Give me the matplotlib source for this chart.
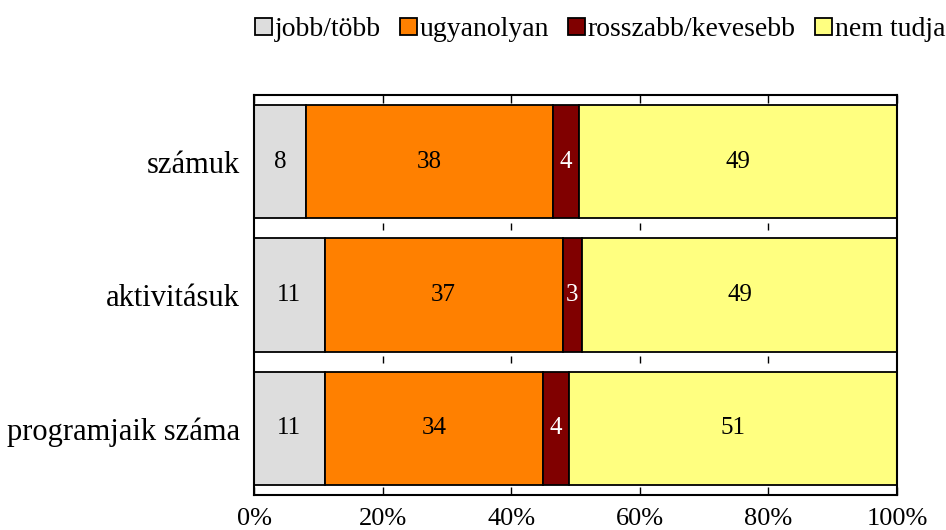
import numpy as np
import matplotlib
matplotlib.use("Agg")
import matplotlib.pyplot as plt

plt.rcParams['font.family'] = ['Liberation Serif', 'DejaVu Serif']

categories = ["számuk", "aktivitásuk", "programjaik száma"]
series = ["jobb/több", "ugyanolyan", "rosszabb/kevesebb", "nem tudja"]
values = np.array([
    [8, 38, 4, 49],
    [11, 37, 3, 49],
    [11, 34, 4, 51],
], dtype=float)
colors = ["#DDDDDD", "#FF8000", "#800000", "#FFFF80"]
text_colors = ["black", "black", "white", "black"]
xticks = [0, 20, 40, 60, 80, 100]

fig = plt.figure(figsize=(9.46, 5.30), dpi=100)
ax = fig.add_axes([0.2685, 0.066, 0.6797, 0.755])

# percent stacked: each row scaled to 100
shares = values / values.sum(axis=1, keepdims=True) * 100
y = np.arange(len(categories))
left = np.zeros(len(categories))
for j, name in enumerate(series):
    bars = ax.barh(y, shares[:, j], left=left, height=0.85, color=colors[j],
                   edgecolor="black", linewidth=1.3, label=name)
    for i, b in enumerate(bars):
        ax.text(left[i] + shares[i, j] / 2, y[i], f"{values[i, j]:.0f}",
                ha="center", va="center", fontsize=18, color=text_colors[j])
    left += shares[:, j]

ax.set_xlim(0, 100)
ax.set_ylim(-0.5, len(categories) - 0.5)
ax.invert_yaxis()
ax.set_yticks(y)
ax.set_yticklabels(categories, fontsize=22)
ax.set_xticks(xticks)
ax.set_xticklabels([f"{t}%" for t in xticks], fontsize=19)
ax.tick_params(axis="y", length=0, pad=10)
ax.tick_params(axis="x", direction="in", length=6, width=1, top=True, pad=9)

# little tick marks in the gaps between bars (just under each bar)
for g in y[:-1] + 0.5:
    ax.vlines(xticks[1:-1], g - 0.04, g + 0.01, color="black", linewidth=1)

for s in ax.spines.values():
    s.set_linewidth(1.5)

fig.legend(loc="center right", bbox_to_anchor=(1.011, 0.944), ncol=4, frameon=False,
           fontsize=20, handlelength=0.6, handleheight=0.6, handletextpad=0.1,
           columnspacing=0.7, borderaxespad=0)

fig.savefig("out.png", dpi=100)
